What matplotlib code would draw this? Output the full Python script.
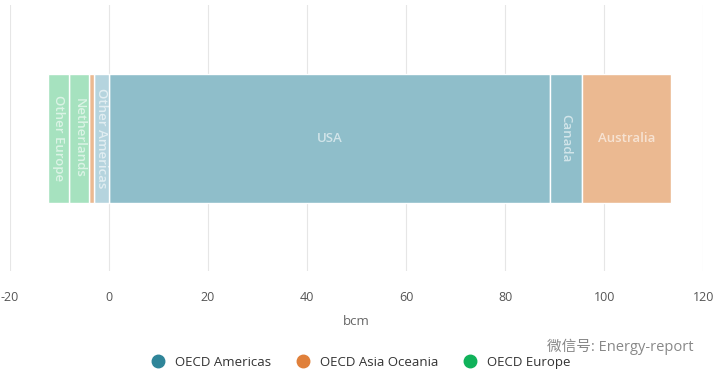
import matplotlib.pyplot as plt
from matplotlib.lines import Line2D

plt.rcParams['font.family'] = ['Open Sans', 'Noto Sans CJK SC', 'DejaVu Sans']
plt.rcParams['axes.unicode_minus'] = False

# segments in stacking order (positives from 0 rightwards, negatives from 0 leftwards)
segments = ['USA', 'Canada', 'Australia', 'Other Americas', 'Japan', 'Netherlands', 'Other Europe']
values = [89.0, 6.6, 17.9, -3.0, -1.0, -4.1, -4.2]
regions = ['OECD Americas', 'OECD Americas', 'OECD Asia Oceania', 'OECD Americas',
           'OECD Asia Oceania', 'OECD Europe', 'OECD Europe']
show_label = [True, True, True, True, False, True, True]

region_names = ['OECD Americas', 'OECD Asia Oceania', 'OECD Europe']
bar_colors = {'OECD Americas': '#8fbeca', 'OECD Asia Oceania': '#ebb991', 'OECD Europe': '#a6e2bf'}
dot_colors = {'OECD Americas': '#2f8599', 'OECD Asia Oceania': '#e0803a', 'OECD Europe': '#10b25a'}

fig = plt.figure(figsize=(7.16, 3.82), dpi=100)
ax = fig.add_axes([0.014, 0.29, 0.968, 0.697])

pos, neg = 0.0, 0.0
for name, v, reg, lab in zip(segments, values, regions, show_label):
    if v >= 0:
        left = pos
        pos += v
    else:
        left = neg + v
        neg += v
    color = bar_colors[reg]
    if name == 'Other Americas':
        color = '#b5d4de'
    ax.barh(0, abs(v), left=left, height=0.97, color=color, edgecolor='white', linewidth=1, zorder=2)
    if lab:
        rot = 0 if abs(v) > 10 else 270
        ax.text(left + abs(v) / 2, 0, name, ha='center', va='center', rotation=rot,
                color='white', alpha=0.6, fontsize=9.5, fontweight='semibold', zorder=3)

ax.set_xlim(-20, 120)
ax.set_ylim(-1, 1)
ax.set_xticks(range(-20, 121, 20))
ax.set_yticks([])
ax.grid(axis='x', color='#e6e6e6', linewidth=0.8, zorder=0)
for s in ax.spines.values():
    s.set_visible(False)
ax.tick_params(axis='x', length=0, pad=14, labelsize=9, labelcolor='#555555')
ax.set_xlabel('bcm', fontsize=9.5, color='#666666', labelpad=8)

handles = [Line2D([], [], marker='o', linestyle='', markersize=9, color=dot_colors[r]) for r in region_names]
fig.legend(handles, region_names, loc='center', bbox_to_anchor=(0.5, 0.052), ncol=3, frameon=False,
           fontsize=9.5, handletextpad=0.3, columnspacing=1.4, labelcolor='#333333')

fig.text(0.968, 0.092, '微信号: Energy-report', ha='right', va='center', fontsize=10.5, color='#888888')

fig.savefig('out.png', dpi=100)
